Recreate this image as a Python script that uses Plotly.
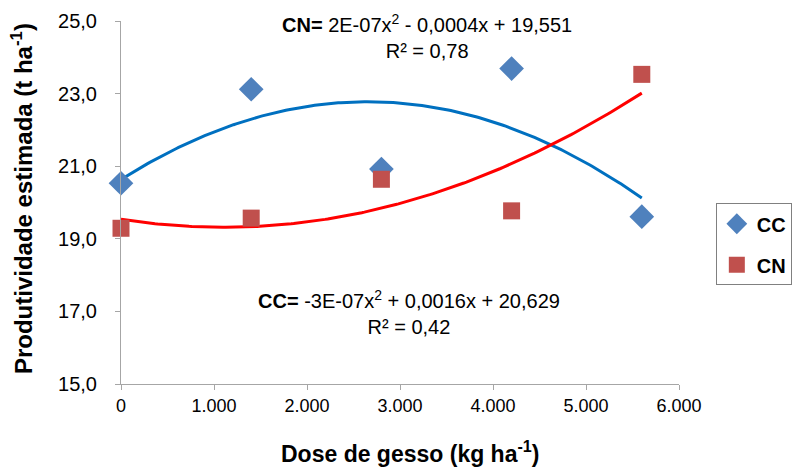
import numpy as np
import plotly.graph_objects as go

# Gypsum doses (kg/ha) and estimated yield (t/ha) per system
dose = [0, 1400, 2800, 4200, 5600]
cc_yield = [20.53, 23.12, 20.92, 23.69, 19.61]
cn_yield = [19.29, 19.57, 20.64, 19.77, 23.53]

x_ticks = [0, 1000, 2000, 3000, 4000, 5000, 6000]
x_tick_labels = ["0", "1.000", "2.000", "3.000", "4.000", "5.000", "6.000"]
y_ticks = [15, 17, 19, 21, 23, 25]
y_tick_labels = ["15,0", "17,0", "19,0", "21,0", "23,0", "25,0"]

cn_eq = "<b>CN=</b> 2E-07x<sup>2</sup> - 0,0004x + 19,551<br>R² = 0,78"
cc_eq = "<b>CC=</b> -3E-07x<sup>2</sup> + 0,0016x + 20,629<br>R² = 0,42"
x_title = "<b>Dose de gesso (kg ha<sup>-1</sup>)</b>"
y_title = "<b>Produtividade estimada (t ha<sup>-1</sup>)</b>"

FONT = "Liberation Sans, Arial, sans-serif"
BLACK = "#000000"

# Second-order polynomial trend lines fitted to each series
xs = np.linspace(min(dose), max(dose), 200)
cc_fit = np.polyval(np.polyfit(dose, cc_yield, 2), xs)
cn_fit = np.polyval(np.polyfit(dose, cn_yield, 2), xs)

fig = go.Figure()
fig.add_trace(go.Scatter(x=xs, y=cc_fit, mode="lines", showlegend=False,
                         line=dict(color="#0070C0", width=3), hoverinfo="skip",
                         cliponaxis=False))
fig.add_trace(go.Scatter(x=xs, y=cn_fit, mode="lines", showlegend=False,
                         line=dict(color="#FF0000", width=3), hoverinfo="skip",
                         cliponaxis=False))
fig.add_trace(go.Scatter(x=dose, y=cc_yield, mode="markers", name="<b>CC</b>",
                         legendgroup="cc",
                         marker=dict(symbol="diamond", size=19, color="#4F81BD"),
                         cliponaxis=False))
fig.add_trace(go.Scatter(x=dose, y=cn_yield, mode="markers", name="<b>CN</b>",
                         legendgroup="cn",
                         marker=dict(symbol="square", size=17, color="#C0504D"),
                         cliponaxis=False))

axis_common = dict(showgrid=False, zeroline=False, showline=True,
                   linecolor="#A6A6A6", linewidth=1, ticks="outside",
                   tickcolor="#A6A6A6", ticklen=5)

fig.update_xaxes(range=[0, 6000], tickvals=x_ticks, ticktext=x_tick_labels,
                 tickfont=dict(family=FONT, size=18, color=BLACK),
                 **axis_common)
fig.update_yaxes(range=[15, 25], tickvals=y_ticks, ticktext=y_tick_labels,
                 tickfont=dict(family=FONT, size=20, color=BLACK),
                 ticklabelstandoff=14,
                 **axis_common)

# Regression equations
fig.add_annotation(text=cn_eq, xref="paper", yref="paper", x=0.548, y=1.034,
                   showarrow=False, align="center",
                   font=dict(family=FONT, size=20, color=BLACK))
fig.add_annotation(text=cc_eq, xref="paper", yref="paper", x=0.516, y=0.121,
                   showarrow=False, align="center",
                   font=dict(family=FONT, size=20, color=BLACK))

# Axis titles
fig.add_annotation(text=x_title, xref="paper", yref="paper", x=0.518, y=-0.188,
                   xanchor="center", yanchor="middle", showarrow=False,
                   font=dict(family=FONT, size=23, color=BLACK))
fig.add_annotation(text=y_title, xref="paper", yref="paper", x=-0.177, y=0.51,
                   xanchor="center", yanchor="middle", textangle=-90,
                   showarrow=False,
                   font=dict(family=FONT, size=24, color=BLACK))

fig.update_layout(
    width=793, height=470,
    margin=dict(l=121, r=114, t=21, b=86, autoexpand=False),
    paper_bgcolor="white", plot_bgcolor="white",
    font=dict(family=FONT),
    legend=dict(x=1.066, xanchor="left", y=0.385, yanchor="middle",
                bordercolor="#808080", borderwidth=1,
                font=dict(family=FONT, size=20, color=BLACK),
                itemwidth=30, traceorder="grouped", tracegroupgap=12),
)

fig.write_html("out.html")
